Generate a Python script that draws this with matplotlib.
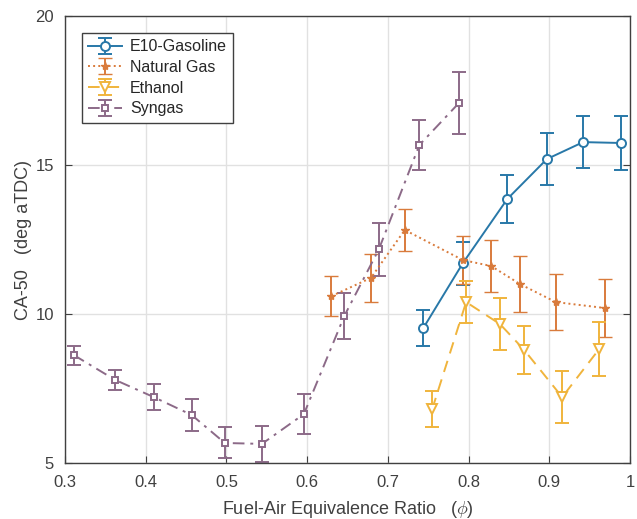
import matplotlib
matplotlib.use('Agg')
import matplotlib.pyplot as plt

# E10-Gasoline
e10_phi = [0.744, 0.793, 0.848, 0.897, 0.942, 0.989]
e10_ca50 = [9.53, 11.71, 13.86, 15.2, 15.77, 15.74]
e10_err = [0.6, 0.72, 0.8, 0.88, 0.88, 0.9]

# Natural Gas
ng_phi = [0.630, 0.679, 0.721, 0.793, 0.828, 0.864, 0.908, 0.969]
ng_ca50 = [10.6, 11.21, 12.82, 11.81, 11.61, 11.0, 10.4, 10.2]
ng_err = [0.67, 0.8, 0.7, 0.8, 0.87, 0.94, 0.94, 0.97]

# Ethanol
eth_phi = [0.755, 0.797, 0.839, 0.869, 0.916, 0.962]
eth_ca50 = [6.81, 10.4, 9.66, 8.79, 7.21, 8.83]
eth_err = [0.6, 0.7, 0.87, 0.8, 0.87, 0.9]

# Syngas
syn_phi = [0.311, 0.362, 0.410, 0.457, 0.498, 0.544, 0.596, 0.646, 0.689, 0.739, 0.788]
syn_ca50 = [8.62, 7.79, 7.21, 6.61, 5.67, 5.64, 6.64, 9.93, 12.18, 15.67, 17.08]
syn_err = [0.32, 0.33, 0.43, 0.54, 0.52, 0.6, 0.67, 0.77, 0.89, 0.84, 1.04]

BLUE = '#2878a8'
ORANGE = '#d97b3c'
YELLOW = '#f0b43c'
PURPLE = '#8c6a88'
TEXT = '#404040'

plt.rcParams['font.family'] = ['Liberation Sans', 'DejaVu Sans']
plt.rcParams['mathtext.fontset'] = 'cm'

fig = plt.figure(figsize=(6.37, 5.19), dpi=100)
ax = fig.add_axes([0.102, 0.108, 0.887, 0.861])

common = dict(capsize=5, elinewidth=1.4, capthick=1.4, linewidth=1.4)
ax.errorbar(e10_phi, e10_ca50, yerr=e10_err, color=BLUE, linestyle='-', marker='o',
            markersize=6.5, markerfacecolor='white', markeredgewidth=1.4,
            label='E10-Gasoline', **common)
ax.errorbar(ng_phi, ng_ca50, yerr=ng_err, color=ORANGE, linestyle=':', marker='*',
            markersize=6, markeredgewidth=1.0, label='Natural Gas', **common)
ax.errorbar(eth_phi, eth_ca50, yerr=eth_err, color=YELLOW, linestyle=(0, (6, 4)), marker='v',
            markersize=7, markerfacecolor='white', markeredgewidth=1.4,
            label='Ethanol', **common)
ax.errorbar(syn_phi, syn_ca50, yerr=syn_err, color=PURPLE, linestyle=(0, (6, 3, 1.5, 3)), marker='s',
            markersize=5, markerfacecolor='white', markeredgewidth=1.4,
            label='Syngas', **common)

ax.set_xlim(0.3, 1.0)
ax.set_ylim(5, 20)
ax.set_xticks([0.3, 0.4, 0.5, 0.6, 0.7, 0.8, 0.9, 1.0])
ax.set_xticklabels(['0.3', '0.4', '0.5', '0.6', '0.7', '0.8', '0.9', '1'])
ax.set_yticks([5, 10, 15, 20])
ax.grid(True, color='#e1e1e1', linewidth=1.0)
ax.set_axisbelow(True)
ax.tick_params(direction='in', length=5, colors='#404040', labelcolor=TEXT, labelsize=12,
               top=False, right=True)
ax.tick_params(axis='x', pad=9)
ax.tick_params(axis='y', pad=8)
for sp in ax.spines.values():
    sp.set_color('#404040')
    sp.set_linewidth(1.0)

ax.set_xlabel(r'Fuel-Air Equivalence Ratio   ($\phi$)', fontsize=13, color=TEXT, labelpad=6)
ax.set_ylabel('CA-50   (deg aTDC)', fontsize=13, color=TEXT, labelpad=2)

leg = ax.legend(loc='upper left', bbox_to_anchor=(0.03, 0.962), borderaxespad=0, fontsize=11.5,
                fancybox=False, framealpha=1, edgecolor='#404040',
                handlelength=2.1, handletextpad=0.5, borderpad=0.4, labelspacing=0.35)
leg.get_frame().set_linewidth(1.0)
for t in leg.get_texts():
    t.set_color('#262626')

fig.savefig('out.png', dpi=100)
